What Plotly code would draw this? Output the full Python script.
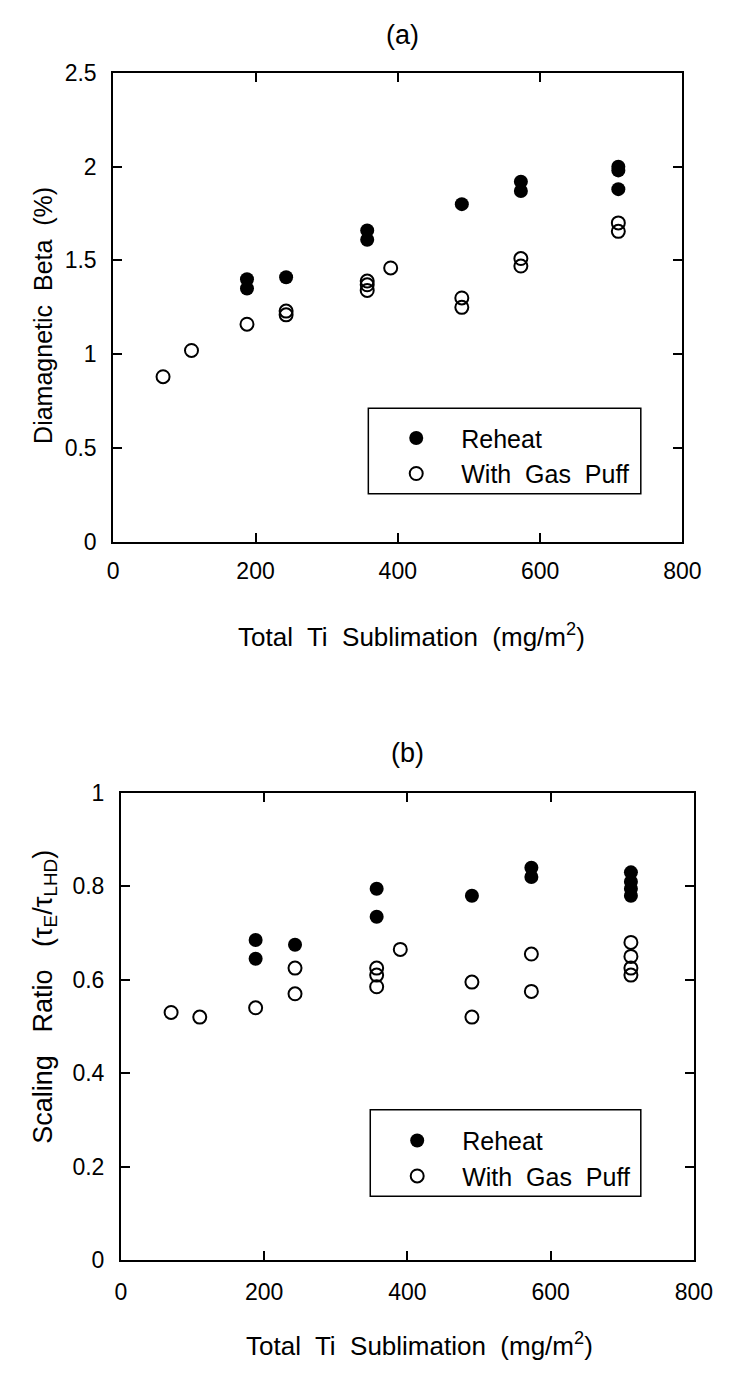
import plotly.graph_objects as go

# Titanium sublimation (mg/m^2) for each shot group
ti_reheat_a = [188, 188, 243, 357, 357, 490, 573, 573, 710, 710, 710]
beta_reheat = [1.40, 1.35, 1.41, 1.66, 1.61, 1.80, 1.92, 1.87, 2.00, 1.98, 1.88]

ti_puff_a = [70, 110, 188, 243, 243, 357, 357, 357, 390, 490, 490, 573, 573, 710, 710]
beta_puff = [0.88, 1.02, 1.16, 1.23, 1.21, 1.39, 1.37, 1.34, 1.46, 1.30, 1.25, 1.51, 1.47, 1.70, 1.655]

ti_reheat_b = [188, 188, 243, 357, 357, 490, 573, 573, 712, 712, 712, 712]
ratio_reheat = [0.685, 0.645, 0.675, 0.795, 0.735, 0.78, 0.84, 0.82, 0.83, 0.81, 0.795, 0.78]

ti_puff_b = [70, 110, 188, 243, 243, 357, 357, 357, 390, 490, 490, 573, 573, 712, 712, 712, 712]
ratio_puff = [0.53, 0.52, 0.54, 0.625, 0.57, 0.625, 0.61, 0.585, 0.665, 0.595, 0.52,
              0.655, 0.575, 0.68, 0.65, 0.625, 0.61]

x_ticks = [0, 200, 400, 600, 800]
beta_ticks = [0, 0.5, 1, 1.5, 2, 2.5]
beta_labels = ["0", "0.5", "1", "1.5", "2", "2.5"]
ratio_ticks = [0, 0.2, 0.4, 0.6, 0.8, 1]
ratio_labels = ["0", "0.2", "0.4", "0.6", "0.8", "1"]

FONT = "Liberation Sans, Arial, Helvetica, sans-serif"
W, H = 740, 1374

fig = go.Figure()

filled = dict(symbol="circle", size=14, color="black", line=dict(width=0))
hollow = dict(symbol="circle-open", size=13, color="black", line=dict(width=2, color="black"))

fig.add_trace(go.Scatter(x=ti_reheat_a, y=beta_reheat, mode="markers", marker=filled,
                         name="Reheat", xaxis="x", yaxis="y", legend="legend"))
fig.add_trace(go.Scatter(x=ti_puff_a, y=beta_puff, mode="markers", marker=hollow,
                         name="With  Gas  Puff", xaxis="x", yaxis="y", legend="legend"))
fig.add_trace(go.Scatter(x=ti_reheat_b, y=ratio_reheat, mode="markers", marker=filled,
                         name="Reheat", xaxis="x2", yaxis="y2", legend="legend2"))
fig.add_trace(go.Scatter(x=ti_puff_b, y=ratio_puff, mode="markers", marker=hollow,
                         name="With  Gas  Puff", xaxis="x2", yaxis="y2", legend="legend2"))


def px_x(p):
    return p / W


def px_y(p):
    return 1 - p / H


# plot frames in pixels
A = dict(l=111, r=700, t=61, b=539)
B = dict(l=119, r=712, t=795, b=1271)

axis_common = dict(
    showline=True, linecolor="black", linewidth=2, mirror="ticks",
    ticks="inside", ticklen=9, tickwidth=1.5, tickcolor="black",
    showgrid=False, zeroline=False,
    tickfont=dict(family=FONT, size=23, color="black"),
)

legend_common = dict(
    xanchor="left", yanchor="top", bgcolor="rgba(0,0,0,0)", borderwidth=0,
    itemwidth=80, tracegroupgap=0,
    font=dict(family=FONT, size=25, color="black"),
)

fig.update_layout(
    width=W, height=H,
    margin=dict(l=0, r=0, t=0, b=0),
    paper_bgcolor="white", plot_bgcolor="white",
    font=dict(family=FONT, size=23, color="black"),
    xaxis=dict(domain=[px_x(A["l"]), px_x(A["r"])], range=[0, 800], tickvals=x_ticks,
               anchor="y", ticklabelstandoff=8, **axis_common),
    yaxis=dict(domain=[px_y(A["b"]), px_y(A["t"])], range=[0, 2.5], tickvals=beta_ticks,
               ticktext=beta_labels, anchor="x", ticklabelstandoff=10, **axis_common),
    xaxis2=dict(domain=[px_x(B["l"]), px_x(B["r"])], range=[0, 800], tickvals=x_ticks,
                anchor="y2", ticklabelstandoff=10, **axis_common),
    yaxis2=dict(domain=[px_y(B["b"]), px_y(B["t"])], range=[0, 1], tickvals=ratio_ticks,
                ticktext=ratio_labels, anchor="x2", ticklabelstandoff=10, **axis_common),
    legend=dict(x=px_x(378), y=px_y(410), **legend_common),
    legend2=dict(x=px_x(379), y=px_y(1126), **legend_common),
    showlegend=True,
)

# legend frames
fig.add_shape(type="rect", xref="paper", yref="paper",
              x0=px_x(375), x1=px_x(657), y0=px_y(490), y1=px_y(403),
              line=dict(color="black", width=1.5), fillcolor="white", layer="below")
fig.add_shape(type="rect", xref="paper", yref="paper",
              x0=px_x(377), x1=px_x(657), y0=px_y(1206), y1=px_y(1118),
              line=dict(color="black", width=1.5), fillcolor="white", layer="below")


def label(text, x, y, size=25, angle=0):
    fig.add_annotation(text=text, x=px_x(x), y=px_y(y), xref="paper", yref="paper",
                       showarrow=False, textangle=angle, xanchor="center", yanchor="middle",
                       font=dict(family=FONT, size=size, color="black"))


label("(a)", 410, 22, size=27)
label("(b)", 416, 754, size=27)
label("Diamagnetic  Beta  (%)", 38, 308, size=25, angle=-90)
label("Scaling   Ratio   (τ<sub>E</sub>/τ<sub>LHD</sub>)", 40, 1003, size=27, angle=-90)
label("Total  Ti  Sublimation  (mg/m<sup>2</sup>)", 420, 634, size=26)
label("Total  Ti  Sublimation  (mg/m<sup>2</sup>)", 428, 1357, size=26)

fig.write_html("out.html")
